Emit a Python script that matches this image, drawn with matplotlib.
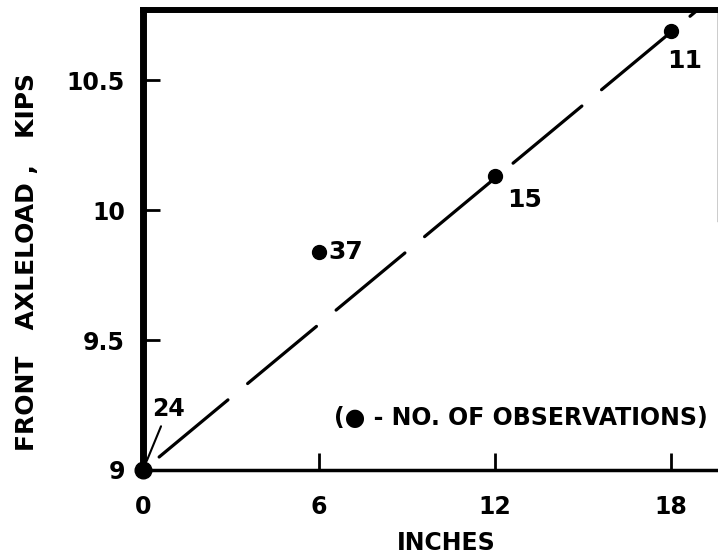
import matplotlib.pyplot as plt

# data
inches = [0, 6, 12, 18]
axleload = [9.0, 9.84, 10.13, 10.69]
n_obs = ['24', '37', '15', '11']

# fitted dashed line (end points)
fit_x = [0.55, 18.85]
fit_y = [9.05, 10.765]

plt.rcParams['font.family'] = ['DejaVu Sans']
plt.rcParams['font.weight'] = 'bold'

fig = plt.figure(figsize=(7.18, 5.6), dpi=100)
ax = fig.add_axes([143 / 718, 1 - 470 / 560, 575 / 718, 460 / 560])
ax.set_xlim(0, 19.6)
ax.set_ylim(9, 10.77)

ax.plot(fit_x, fit_y, color='black', lw=2.3, dashes=(28, 8), solid_capstyle='round',
        dash_capstyle='round', zorder=2)
ax.plot(inches[1:], axleload[1:], 'o', color='black', ms=10, zorder=3, clip_on=False)
ax.plot(inches[:1], axleload[:1], 'o', color='black', ms=12, zorder=3, clip_on=False)

# observation counts
ax.annotate(n_obs[0], xy=(inches[0], axleload[0]), xytext=(0.3, 9.235),
            fontsize=17, ha='left', va='center',
            arrowprops=dict(arrowstyle='-', color='black', lw=1.5, shrinkA=2, shrinkB=7))
ax.text(inches[1] + 0.33, axleload[1], n_obs[1], fontsize=18, ha='left', va='center')
ax.text(inches[2] + 0.4, axleload[2] - 0.09, n_obs[2], fontsize=18, ha='left', va='center')
ax.text(inches[3] - 0.15, axleload[3] - 0.115, n_obs[3], fontsize=18, ha='left', va='center')

ax.text(6.5, 9.2, '(\u25cf - NO. OF OBSERVATIONS)', fontsize=17, ha='left', va='center')

ax.set_xticks([0, 6, 12, 18])
ax.set_xticklabels(['0', '6', '12', '18'])
ax.set_yticks([9, 9.5, 10, 10.5])
ax.set_yticklabels(['9', '9.5', '10', '10.5'])
ax.tick_params(direction='in', length=12, width=2, labelsize=17, colors='black')
ax.tick_params(axis='x', pad=18)
ax.tick_params(axis='y', pad=13)

ax.spines['left'].set_linewidth(5)
ax.spines['top'].set_linewidth(4.3)
ax.spines['bottom'].set_linewidth(2.5)
ax.spines['right'].set_linewidth(1)
ax.spines['right'].set_bounds(9.96, 10.77)

fig.text(446 / 718, 1 - 543 / 560, 'INCHES', fontsize=17, ha='center', va='center')
fig.text(27 / 718, 1 - 262 / 560, 'FRONT   AXLELOAD ,   KIPS', fontsize=18,
         rotation=90, ha='center', va='center')

fig.savefig('out.png', dpi=100)
